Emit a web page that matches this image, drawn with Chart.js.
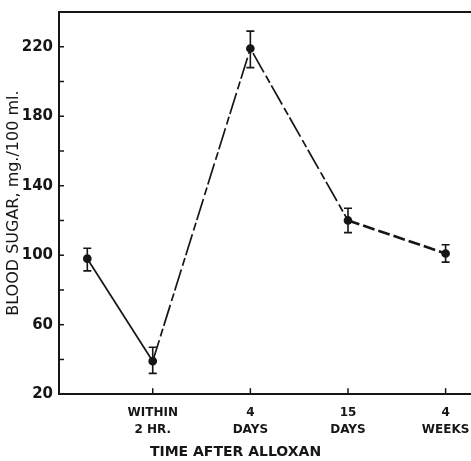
<!DOCTYPE html>
<html>
<head>
<meta charset="utf-8">
<script src="https://cdn.jsdelivr.net/npm/chart.js@4.4.0/dist/chart.umd.min.js"></script>
<style>
  html, body { margin: 0; padding: 0; background: #fff; }
  #wrap { width: 471px; height: 461px; }
</style>
</head>
<body>
<div id="wrap"><canvas id="grafico" width="471" height="461"></canvas></div>
<script>
// data
const timeLabels = [['', ''], ['WITHIN', '2 HR.'], ['4', 'DAYS'], ['15', 'DAYS'], ['4', 'WEEKS']];
const timePos = [0.33, 1, 2, 3, 4];
const bloodSugar = [98, 39, 219, 120, 101];
const errUp = [6, 8, 10, 7, 5];
const errDown = [7, 7, 11, 7, 5];
const yLabelTicks = [20, 60, 100, 140, 180, 220];

const ink = '#161616';

// error bars, inward tick marks and the top frame line
const extras = {
    id: 'extras',
    afterDatasetsDraw(chart) {
        const c = chart.ctx;
        const x = chart.scales.x, y = chart.scales.y;
        const area = chart.chartArea;
        c.save();
        c.strokeStyle = ink;
        c.lineWidth = 1.6;
        bloodSugar.forEach((v, i) => {
            const px = x.getPixelForValue(timePos[i]);
            const top = y.getPixelForValue(v + errUp[i]);
            const bot = y.getPixelForValue(v - errDown[i]);
            c.beginPath();
            c.moveTo(px, top); c.lineTo(px, bot);
            c.moveTo(px - 4, top); c.lineTo(px + 4, top);
            c.moveTo(px - 4, bot); c.lineTo(px + 4, bot);
            c.stroke();
        });
        c.lineWidth = 1.5;
        y.ticks.forEach(t => {
            if (t.value <= 20 || t.value >= 240) return;
            const py = y.getPixelForValue(t.value);
            c.beginPath();
            c.moveTo(area.left, py); c.lineTo(area.left + 5, py);
            c.stroke();
        });
        x.ticks.forEach(t => {
            const px = x.getPixelForValue(t.value);
            c.beginPath();
            c.moveTo(px, area.bottom); c.lineTo(px, area.bottom - 6);
            c.stroke();
        });
        c.lineWidth = 2;
        c.beginPath();
        c.moveTo(area.left - 1, area.top); c.lineTo(chart.width, area.top);
        c.stroke();
        c.restore();
    }
};

const ctx = document.getElementById('grafico').getContext('2d');
const grafico = new Chart(ctx, {
    type: 'line',
    data: {
        datasets: [{
            data: timePos.map((t, i) => ({ x: t, y: bloodSugar[i] })),
            borderColor: ink,
            borderWidth: 1.7,
            pointRadius: 3.5,
            pointBackgroundColor: ink,
            pointBorderColor: ink,
            tension: 0,
            segment: {
                borderDash: s => s.p0DataIndex === 0 ? undefined : (s.p0DataIndex === 3 ? [12, 4] : [22, 4, 8, 3]),
                borderWidth: s => s.p0DataIndex === 3 ? 2.6 : 1.7
            }
        }]
    },
    options: {
        responsive: false,
        animation: false,
        layout: { autoPadding: false, padding: { top: 12, right: 0, left: 0, bottom: 0 } },
        plugins: {
            legend: { display: false },
            tooltip: { enabled: false },
            title: {
                display: true,
                position: 'bottom',
                text: 'TIME AFTER ALLOXAN',
                color: ink,
                font: { family: 'DejaVu Sans', size: 14, weight: 'bold' },
                padding: { top: 4, bottom: 0 }
            }
        },
        scales: {
            x: {
                type: 'linear',
                min: 0.04,
                max: 4.26,
                afterBuildTicks: s => { s.ticks = timePos.slice(1).map(v => ({ value: v })); },
                afterFit: s => { s.height = 46; s.paddingLeft = 0; s.paddingRight = 0; },
                grid: { display: false, drawTicks: false },
                border: { display: true, color: ink, width: 2 },
                ticks: {
                    autoSkip: false,
                    maxRotation: 0,
                    padding: 10,
                    color: ink,
                    font: { family: 'DejaVu Sans', size: 12, weight: 'bold', lineHeight: 1.45 },
                    callback: v => timeLabels[timePos.indexOf(v)]
                }
            },
            y: {
                min: 20,
                max: 240,
                afterFit: s => { s.width = 59; s.paddingTop = 0; s.paddingBottom = 0; },
                ticks: {
                    stepSize: 20,
                    padding: 6,
                    color: ink,
                    font: { family: 'DejaVu Sans', size: 15, weight: 'bold' },
                    callback: v => yLabelTicks.includes(v) ? v : ''
                },
                grid: { display: false, drawTicks: false },
                border: { display: true, color: ink, width: 2 },
                title: {
                    display: true,
                    text: 'BLOOD SUGAR, mg./100 ml.',
                    color: ink,
                    font: { family: 'DejaVu Sans', size: 16 },
                    padding: { top: 4, bottom: 2 }
                }
            }
        }
    },
    plugins: [extras]
});
</script>
</body>
</html>
